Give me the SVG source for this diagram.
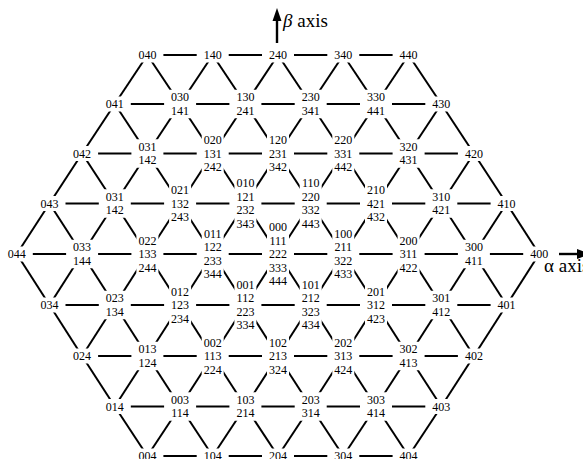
<svg xmlns="http://www.w3.org/2000/svg" xmlns:xlink="http://www.w3.org/1999/xlink" width="583" height="459" viewBox="0 0 583 459">
<style>
.c line{stroke:#000;stroke-width:2;fill:none}
text{font-family:"Liberation Serif","Times New Roman",serif;font-size:12px;text-anchor:middle;fill:#000}
text.ax{font-size:19px;text-anchor:start}
</style>
<defs>
<g id="m1" fill="#fff"><rect x="-11" y="-7.5" width="22" height="15"/><rect x="-16" y="-2.5" width="32" height="5"/></g>
<g id="m2" fill="#fff"><rect x="-11" y="-14.25" width="22" height="28.5"/><rect x="-16" y="-2.5" width="32" height="5"/></g>
<g id="m3" fill="#fff"><rect x="-11" y="-21" width="22" height="42"/><rect x="-16" y="-2.5" width="32" height="5"/></g>
<g id="m4" fill="#fff"><rect x="-11" y="-27.75" width="22" height="55.5"/><rect x="-16" y="-2.5" width="32" height="5"/></g>
<g id="m5" fill="#fff"><rect x="-11" y="-34.5" width="22" height="69"/><rect x="-16" y="-2.5" width="32" height="5"/></g>
</defs>
<rect width="583" height="459" fill="#fff"/>
<g id="connectors" class="c">
<line x1="147.4" y1="55" x2="212.7" y2="55"/><line x1="212.7" y1="55" x2="278" y2="55"/><line x1="278" y1="55" x2="343.3" y2="55"/><line x1="343.3" y1="55" x2="408.6" y2="55"/>
<line x1="114.8" y1="104" x2="180.1" y2="104"/><line x1="180.1" y1="104" x2="245.4" y2="104"/><line x1="245.4" y1="104" x2="310.7" y2="104"/><line x1="310.7" y1="104" x2="376" y2="104"/><line x1="376" y1="104" x2="441.3" y2="104"/>
<line x1="82.1" y1="153.5" x2="147.4" y2="153.5"/><line x1="147.4" y1="153.5" x2="212.7" y2="153.5"/><line x1="212.7" y1="153.5" x2="278" y2="153.5"/><line x1="278" y1="153.5" x2="343.3" y2="153.5"/><line x1="343.3" y1="153.5" x2="408.6" y2="153.5"/><line x1="408.6" y1="153.5" x2="473.9" y2="153.5"/>
<line x1="49.5" y1="203.5" x2="114.8" y2="203.5"/><line x1="114.8" y1="203.5" x2="180.1" y2="203.5"/><line x1="180.1" y1="203.5" x2="245.4" y2="203.5"/><line x1="245.4" y1="203.5" x2="310.7" y2="203.5"/><line x1="310.7" y1="203.5" x2="376" y2="203.5"/><line x1="376" y1="203.5" x2="441.3" y2="203.5"/><line x1="441.3" y1="203.5" x2="506.6" y2="203.5"/>
<line x1="16.8" y1="254" x2="82.1" y2="254"/><line x1="82.1" y1="254" x2="147.4" y2="254"/><line x1="147.4" y1="254" x2="212.7" y2="254"/><line x1="212.7" y1="254" x2="278" y2="254"/><line x1="278" y1="254" x2="343.3" y2="254"/><line x1="343.3" y1="254" x2="408.6" y2="254"/><line x1="408.6" y1="254" x2="473.9" y2="254"/><line x1="473.9" y1="254" x2="539.2" y2="254"/>
<line x1="49.5" y1="305" x2="114.8" y2="305"/><line x1="114.8" y1="305" x2="180.1" y2="305"/><line x1="180.1" y1="305" x2="245.4" y2="305"/><line x1="245.4" y1="305" x2="310.7" y2="305"/><line x1="310.7" y1="305" x2="376" y2="305"/><line x1="376" y1="305" x2="441.3" y2="305"/><line x1="441.3" y1="305" x2="506.6" y2="305"/>
<line x1="82.1" y1="356" x2="147.4" y2="356"/><line x1="147.4" y1="356" x2="212.7" y2="356"/><line x1="212.7" y1="356" x2="278" y2="356"/><line x1="278" y1="356" x2="343.3" y2="356"/><line x1="343.3" y1="356" x2="408.6" y2="356"/><line x1="408.6" y1="356" x2="473.9" y2="356"/>
<line x1="114.8" y1="406.5" x2="180.1" y2="406.5"/><line x1="180.1" y1="406.5" x2="245.4" y2="406.5"/><line x1="245.4" y1="406.5" x2="310.7" y2="406.5"/><line x1="310.7" y1="406.5" x2="376" y2="406.5"/><line x1="376" y1="406.5" x2="441.3" y2="406.5"/>
<line x1="147.4" y1="456" x2="212.7" y2="456"/><line x1="212.7" y1="456" x2="278" y2="456"/><line x1="278" y1="456" x2="343.3" y2="456"/><line x1="343.3" y1="456" x2="408.6" y2="456"/>
<line x1="147.4" y1="55" x2="114.8" y2="104"/><line x1="147.4" y1="55" x2="180.1" y2="104"/><line x1="212.7" y1="55" x2="180.1" y2="104"/><line x1="212.7" y1="55" x2="245.4" y2="104"/><line x1="278" y1="55" x2="245.4" y2="104"/><line x1="278" y1="55" x2="310.7" y2="104"/><line x1="343.3" y1="55" x2="310.7" y2="104"/><line x1="343.3" y1="55" x2="376" y2="104"/><line x1="408.6" y1="55" x2="376" y2="104"/><line x1="408.6" y1="55" x2="441.3" y2="104"/>
<line x1="114.8" y1="104" x2="82.1" y2="153.5"/><line x1="114.8" y1="104" x2="147.4" y2="153.5"/><line x1="180.1" y1="104" x2="147.4" y2="153.5"/><line x1="180.1" y1="104" x2="212.7" y2="153.5"/><line x1="245.4" y1="104" x2="212.7" y2="153.5"/><line x1="245.4" y1="104" x2="278" y2="153.5"/><line x1="310.7" y1="104" x2="278" y2="153.5"/><line x1="310.7" y1="104" x2="343.3" y2="153.5"/><line x1="376" y1="104" x2="343.3" y2="153.5"/><line x1="376" y1="104" x2="408.6" y2="153.5"/><line x1="441.3" y1="104" x2="408.6" y2="153.5"/><line x1="441.3" y1="104" x2="473.9" y2="153.5"/>
<line x1="82.1" y1="153.5" x2="49.5" y2="203.5"/><line x1="82.1" y1="153.5" x2="114.8" y2="203.5"/><line x1="147.4" y1="153.5" x2="114.8" y2="203.5"/><line x1="147.4" y1="153.5" x2="180.1" y2="203.5"/><line x1="212.7" y1="153.5" x2="180.1" y2="203.5"/><line x1="212.7" y1="153.5" x2="245.4" y2="203.5"/><line x1="278" y1="153.5" x2="245.4" y2="203.5"/><line x1="278" y1="153.5" x2="310.7" y2="203.5"/><line x1="343.3" y1="153.5" x2="310.7" y2="203.5"/><line x1="343.3" y1="153.5" x2="376" y2="203.5"/><line x1="408.6" y1="153.5" x2="376" y2="203.5"/><line x1="408.6" y1="153.5" x2="441.3" y2="203.5"/><line x1="473.9" y1="153.5" x2="441.3" y2="203.5"/><line x1="473.9" y1="153.5" x2="506.6" y2="203.5"/>
<line x1="49.5" y1="203.5" x2="16.8" y2="254"/><line x1="49.5" y1="203.5" x2="82.1" y2="254"/><line x1="114.8" y1="203.5" x2="82.1" y2="254"/><line x1="114.8" y1="203.5" x2="147.4" y2="254"/><line x1="180.1" y1="203.5" x2="147.4" y2="254"/><line x1="180.1" y1="203.5" x2="212.7" y2="254"/><line x1="245.4" y1="203.5" x2="212.7" y2="254"/><line x1="245.4" y1="203.5" x2="278" y2="254"/><line x1="310.7" y1="203.5" x2="278" y2="254"/><line x1="310.7" y1="203.5" x2="343.3" y2="254"/><line x1="376" y1="203.5" x2="343.3" y2="254"/><line x1="376" y1="203.5" x2="408.6" y2="254"/><line x1="441.3" y1="203.5" x2="408.6" y2="254"/><line x1="441.3" y1="203.5" x2="473.9" y2="254"/><line x1="506.6" y1="203.5" x2="473.9" y2="254"/><line x1="506.6" y1="203.5" x2="539.2" y2="254"/>
<line x1="49.5" y1="305" x2="16.8" y2="254"/><line x1="49.5" y1="305" x2="82.1" y2="254"/><line x1="114.8" y1="305" x2="82.1" y2="254"/><line x1="114.8" y1="305" x2="147.4" y2="254"/><line x1="180.1" y1="305" x2="147.4" y2="254"/><line x1="180.1" y1="305" x2="212.7" y2="254"/><line x1="245.4" y1="305" x2="212.7" y2="254"/><line x1="245.4" y1="305" x2="278" y2="254"/><line x1="310.7" y1="305" x2="278" y2="254"/><line x1="310.7" y1="305" x2="343.3" y2="254"/><line x1="376" y1="305" x2="343.3" y2="254"/><line x1="376" y1="305" x2="408.6" y2="254"/><line x1="441.3" y1="305" x2="408.6" y2="254"/><line x1="441.3" y1="305" x2="473.9" y2="254"/><line x1="506.6" y1="305" x2="473.9" y2="254"/><line x1="506.6" y1="305" x2="539.2" y2="254"/>
<line x1="82.1" y1="356" x2="49.5" y2="305"/><line x1="82.1" y1="356" x2="114.8" y2="305"/><line x1="147.4" y1="356" x2="114.8" y2="305"/><line x1="147.4" y1="356" x2="180.1" y2="305"/><line x1="212.7" y1="356" x2="180.1" y2="305"/><line x1="212.7" y1="356" x2="245.4" y2="305"/><line x1="278" y1="356" x2="245.4" y2="305"/><line x1="278" y1="356" x2="310.7" y2="305"/><line x1="343.3" y1="356" x2="310.7" y2="305"/><line x1="343.3" y1="356" x2="376" y2="305"/><line x1="408.6" y1="356" x2="376" y2="305"/><line x1="408.6" y1="356" x2="441.3" y2="305"/><line x1="473.9" y1="356" x2="441.3" y2="305"/><line x1="473.9" y1="356" x2="506.6" y2="305"/>
<line x1="114.8" y1="406.5" x2="82.1" y2="356"/><line x1="114.8" y1="406.5" x2="147.4" y2="356"/><line x1="180.1" y1="406.5" x2="147.4" y2="356"/><line x1="180.1" y1="406.5" x2="212.7" y2="356"/><line x1="245.4" y1="406.5" x2="212.7" y2="356"/><line x1="245.4" y1="406.5" x2="278" y2="356"/><line x1="310.7" y1="406.5" x2="278" y2="356"/><line x1="310.7" y1="406.5" x2="343.3" y2="356"/><line x1="376" y1="406.5" x2="343.3" y2="356"/><line x1="376" y1="406.5" x2="408.6" y2="356"/><line x1="441.3" y1="406.5" x2="408.6" y2="356"/><line x1="441.3" y1="406.5" x2="473.9" y2="356"/>
<line x1="147.4" y1="456" x2="114.8" y2="406.5"/><line x1="147.4" y1="456" x2="180.1" y2="406.5"/><line x1="212.7" y1="456" x2="180.1" y2="406.5"/><line x1="212.7" y1="456" x2="245.4" y2="406.5"/><line x1="278" y1="456" x2="245.4" y2="406.5"/><line x1="278" y1="456" x2="310.7" y2="406.5"/><line x1="343.3" y1="456" x2="310.7" y2="406.5"/><line x1="343.3" y1="456" x2="376" y2="406.5"/><line x1="408.6" y1="456" x2="376" y2="406.5"/><line x1="408.6" y1="456" x2="441.3" y2="406.5"/>
</g>
<g id="nodes">
<g id="n040" transform="translate(147.4 55)"><use href="#m1"/><text y="4.2">040</text></g>
<g id="n140" transform="translate(212.7 55)"><use href="#m1"/><text y="4.2">140</text></g>
<g id="n240" transform="translate(278 55)"><use href="#m1"/><text y="4.2">240</text></g>
<g id="n340" transform="translate(343.3 55)"><use href="#m1"/><text y="4.2">340</text></g>
<g id="n440" transform="translate(408.6 55)"><use href="#m1"/><text y="4.2">440</text></g>

<g id="n041" transform="translate(114.8 104)"><use href="#m1"/><text y="4.2">041</text></g>
<g id="n030" transform="translate(180.1 104)"><use href="#m2"/><text y="-2.55">030</text><text y="10.95">141</text></g>
<g id="n130" transform="translate(245.4 104)"><use href="#m2"/><text y="-2.55">130</text><text y="10.95">241</text></g>
<g id="n230" transform="translate(310.7 104)"><use href="#m2"/><text y="-2.55">230</text><text y="10.95">341</text></g>
<g id="n330" transform="translate(376 104)"><use href="#m2"/><text y="-2.55">330</text><text y="10.95">441</text></g>
<g id="n430" transform="translate(441.3 104)"><use href="#m1"/><text y="4.2">430</text></g>

<g id="n042" transform="translate(82.1 153.5)"><use href="#m1"/><text y="4.2">042</text></g>
<g id="n031" transform="translate(147.4 153.5)"><use href="#m2"/><text y="-2.55">031</text><text y="10.95">142</text></g>
<g id="n020" transform="translate(212.7 153.5)"><use href="#m3"/><text y="-9.3">020</text><text y="4.2">131</text><text y="17.7">242</text></g>
<g id="n120" transform="translate(278 153.5)"><use href="#m3"/><text y="-9.3">120</text><text y="4.2">231</text><text y="17.7">342</text></g>
<g id="n220" transform="translate(343.3 153.5)"><use href="#m3"/><text y="-9.3">220</text><text y="4.2">331</text><text y="17.7">442</text></g>
<g id="n320" transform="translate(408.6 153.5)"><use href="#m2"/><text y="-2.55">320</text><text y="10.95">431</text></g>
<g id="n420" transform="translate(473.9 153.5)"><use href="#m1"/><text y="4.2">420</text></g>

<g id="n043" transform="translate(49.5 203.5)"><use href="#m1"/><text y="4.2">043</text></g>
<g id="n032" transform="translate(114.8 203.5)"><use href="#m2"/><text y="-2.55">031</text><text y="10.95">142</text></g>
<g id="n021" transform="translate(180.1 203.5)"><use href="#m3"/><text y="-9.3">021</text><text y="4.2">132</text><text y="17.7">243</text></g>
<g id="n010" transform="translate(245.4 203.5)"><use href="#m4"/><text y="-16.05">010</text><text y="-2.55">121</text><text y="10.95">232</text><text y="24.45">343</text></g>
<g id="n110" transform="translate(310.7 203.5)"><use href="#m4"/><text y="-16.05">110</text><text y="-2.55">220</text><text y="10.95">332</text><text y="24.45">443</text></g>
<g id="n210" transform="translate(376 203.5)"><use href="#m3"/><text y="-9.3">210</text><text y="4.2">421</text><text y="17.7">432</text></g>
<g id="n310" transform="translate(441.3 203.5)"><use href="#m2"/><text y="-2.55">310</text><text y="10.95">421</text></g>
<g id="n410" transform="translate(506.6 203.5)"><use href="#m1"/><text y="4.2">410</text></g>

<g id="n044" transform="translate(16.8 254)"><use href="#m1"/><text y="4.2">044</text></g>
<g id="n033" transform="translate(82.1 254)"><use href="#m2"/><text y="-2.55">033</text><text y="10.95">144</text></g>
<g id="n022" transform="translate(147.4 254)"><use href="#m3"/><text y="-9.3">022</text><text y="4.2">133</text><text y="17.7">244</text></g>
<g id="n011" transform="translate(212.7 254)"><use href="#m4"/><text y="-16.05">011</text><text y="-2.55">122</text><text y="10.95">233</text><text y="24.45">344</text></g>
<g id="n000" transform="translate(278 254)"><use href="#m5"/><text y="-22.8">000</text><text y="-9.3">111</text><text y="4.2">222</text><text y="17.7">333</text><text y="31.2">444</text></g>
<g id="n100" transform="translate(343.3 254)"><use href="#m4"/><text y="-16.05">100</text><text y="-2.55">211</text><text y="10.95">322</text><text y="24.45">433</text></g>
<g id="n200" transform="translate(408.6 254)"><use href="#m3"/><text y="-9.3">200</text><text y="4.2">311</text><text y="17.7">422</text></g>
<g id="n300" transform="translate(473.9 254)"><use href="#m2"/><text y="-2.55">300</text><text y="10.95">411</text></g>
<g id="n400" transform="translate(539.2 254)"><use href="#m1"/><text y="4.2">400</text></g>

<g id="n034" transform="translate(49.5 305)"><use href="#m1"/><text y="4.2">034</text></g>
<g id="n023" transform="translate(114.8 305)"><use href="#m2"/><text y="-2.55">023</text><text y="10.95">134</text></g>
<g id="n012" transform="translate(180.1 305)"><use href="#m3"/><text y="-9.3">012</text><text y="4.2">123</text><text y="17.7">234</text></g>
<g id="n001" transform="translate(245.4 305)"><use href="#m4"/><text y="-16.05">001</text><text y="-2.55">112</text><text y="10.95">223</text><text y="24.45">334</text></g>
<g id="n101" transform="translate(310.7 305)"><use href="#m4"/><text y="-16.05">101</text><text y="-2.55">212</text><text y="10.95">323</text><text y="24.45">434</text></g>
<g id="n201" transform="translate(376 305)"><use href="#m3"/><text y="-9.3">201</text><text y="4.2">312</text><text y="17.7">423</text></g>
<g id="n301" transform="translate(441.3 305)"><use href="#m2"/><text y="-2.55">301</text><text y="10.95">412</text></g>
<g id="n401" transform="translate(506.6 305)"><use href="#m1"/><text y="4.2">401</text></g>

<g id="n024" transform="translate(82.1 356)"><use href="#m1"/><text y="4.2">024</text></g>
<g id="n013" transform="translate(147.4 356)"><use href="#m2"/><text y="-2.55">013</text><text y="10.95">124</text></g>
<g id="n002" transform="translate(212.7 356)"><use href="#m3"/><text y="-9.3">002</text><text y="4.2">113</text><text y="17.7">224</text></g>
<g id="n102" transform="translate(278 356)"><use href="#m3"/><text y="-9.3">102</text><text y="4.2">213</text><text y="17.7">324</text></g>
<g id="n202" transform="translate(343.3 356)"><use href="#m3"/><text y="-9.3">202</text><text y="4.2">313</text><text y="17.7">424</text></g>
<g id="n302" transform="translate(408.6 356)"><use href="#m2"/><text y="-2.55">302</text><text y="10.95">413</text></g>
<g id="n402" transform="translate(473.9 356)"><use href="#m1"/><text y="4.2">402</text></g>

<g id="n014" transform="translate(114.8 406.5)"><use href="#m1"/><text y="4.2">014</text></g>
<g id="n003" transform="translate(180.1 406.5)"><use href="#m2"/><text y="-2.55">003</text><text y="10.95">114</text></g>
<g id="n103" transform="translate(245.4 406.5)"><use href="#m2"/><text y="-2.55">103</text><text y="10.95">214</text></g>
<g id="n203" transform="translate(310.7 406.5)"><use href="#m2"/><text y="-2.55">203</text><text y="10.95">314</text></g>
<g id="n303" transform="translate(376 406.5)"><use href="#m2"/><text y="-2.55">303</text><text y="10.95">414</text></g>
<g id="n403" transform="translate(441.3 406.5)"><use href="#m1"/><text y="4.2">403</text></g>

<g id="n004" transform="translate(147.4 456)"><use href="#m1"/><text y="4.2">004</text></g>
<g id="n104" transform="translate(212.7 456)"><use href="#m1"/><text y="4.2">104</text></g>
<g id="n204" transform="translate(278 456)"><use href="#m1"/><text y="4.2">204</text></g>
<g id="n304" transform="translate(343.3 456)"><use href="#m1"/><text y="4.2">304</text></g>
<g id="n404" transform="translate(408.6 456)"><use href="#m1"/><text y="4.2">404</text></g>
</g>
<g id="axes">
<line x1="277" y1="43" x2="277" y2="19" stroke="#000" stroke-width="2.4"/>
<polygon points="277,8 272.5,21 281.5,21" fill="#000"/>
<text class="ax" x="283" y="27"><tspan font-style="italic">β</tspan> axis</text>
<line x1="559" y1="254" x2="579" y2="254" stroke="#000" stroke-width="2.4"/>
<polygon points="590,254 577,249 577,259" fill="#000"/>
<text class="ax" x="544" y="272">α axis</text>
</g>
</svg>
